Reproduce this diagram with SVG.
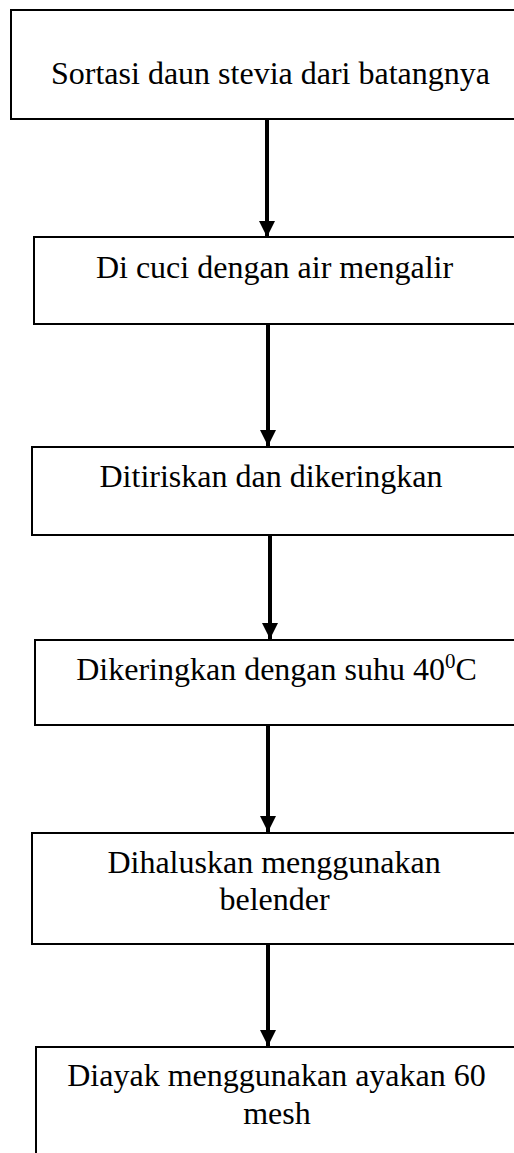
<svg xmlns="http://www.w3.org/2000/svg" width="514" height="1153" viewBox="0 0 514 1153">
<style>
.box{fill:#fff;stroke:#000;stroke-width:2}
.t{font-family:"Liberation Serif","Times New Roman",serif;font-size:32px;fill:#000;text-anchor:middle}
.sup{font-size:21px}
.arr{stroke:#000;stroke-width:4;fill:none}
</style>
<defs>
<marker id="ah" markerUnits="userSpaceOnUse" markerWidth="18" markerHeight="17" viewBox="0 0 18 17" refX="16" refY="8.5" orient="auto">
<path d="M0,0.5 L16,8.5 L0,16.5 Z" fill="#000"/>
</marker>
</defs>
<rect width="514" height="1153" fill="#fff"/>
<g id="n1"><rect class="box" x="11" y="10" width="530" height="109"/><text class="t" x="270.5" y="84">Sortasi daun stevia dari batangnya</text></g>
<g id="n2"><rect class="box" x="34" y="237" width="500" height="87"/><text class="t" x="274.5" y="277.5">Di cuci dengan air mengalir</text></g>
<g id="n3"><rect class="box" x="32" y="447" width="500" height="88"/><text class="t" x="271" y="486.5">Ditiriskan dan dikeringkan</text></g>
<g id="n4"><rect class="box" x="35" y="640" width="500" height="85"/><text class="t" x="276.5" y="680">Dikeringkan dengan suhu 40<tspan class="sup" dy="-12">0</tspan><tspan dy="12">C</tspan></text></g>
<g id="n5"><rect class="box" x="32" y="833" width="500" height="111"/><text class="t" x="274" y="872.5">Dihaluskan menggunakan</text><text class="t" x="274.5" y="910">belender</text></g>
<g id="n6"><rect class="box" x="36" y="1047" width="500" height="130"/><text class="t" x="276.5" y="1086">Diayak menggunakan ayakan 60</text><text class="t" x="277" y="1124">mesh</text></g>
<g id="connectors">
<line class="arr" x1="267" y1="120" x2="267" y2="237" marker-end="url(#ah)"/>
<line class="arr" x1="268" y1="325" x2="268" y2="446" marker-end="url(#ah)"/>
<line class="arr" x1="270" y1="536" x2="270" y2="639" marker-end="url(#ah)"/>
<line class="arr" x1="268" y1="726" x2="268" y2="832" marker-end="url(#ah)"/>
<line class="arr" x1="268" y1="945" x2="268" y2="1046" marker-end="url(#ah)"/>
</g>
</svg>
